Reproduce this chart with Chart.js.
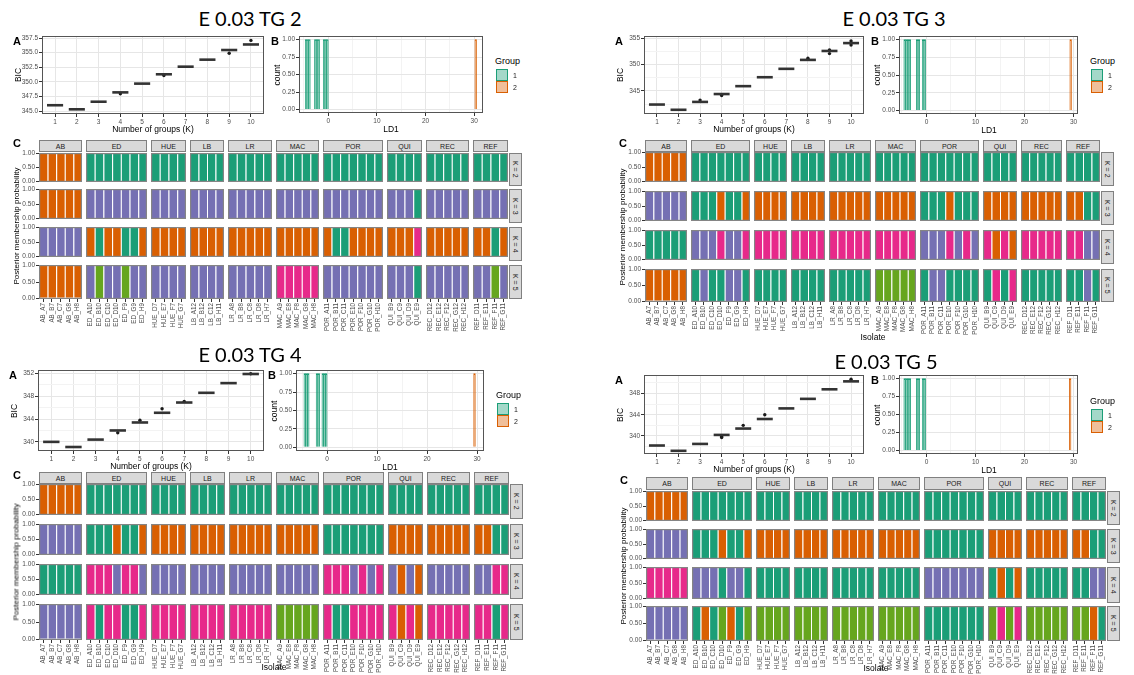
<!DOCTYPE html>
<html>
<head>
<meta charset="utf-8">
<script src="https://cdn.jsdelivr.net/npm/chart.js@4.4.1/dist/chart.umd.min.js"></script>
<style>
  body { margin: 0; width: 1134px; height: 675px; overflow: hidden; position: relative; background: #fff;
         font-family: "Liberation Sans", Arial, sans-serif; }
  .abs { position: absolute; white-space: nowrap; }
  .ctr { transform: translate(-50%, -50%); }
  .rot { transform: translate(-50%, -50%) rotate(-90deg); }
  .title { font-family: Lato, "Open Sans", sans-serif; font-size: 20px; color: #000; }
  .tag { font-weight: bold; font-size: 11px; color: #000; }
  .axt { font-size: 8.5px; color: #000; }
  .strip { background: #d9d9d9; border: 1px solid #808080; box-sizing: border-box; font-size: 7px; color: #1a1a1a;
           display: flex; align-items: center; justify-content: center; }
  .kstrip { writing-mode: vertical-rl; }
  .key { box-sizing: border-box; border: 1.5px solid; }
  canvas { position: absolute; }
</style>
</head>
<body>
<script>
// isolates per population
const populations = ['AB', 'ED', 'HUE', 'LB', 'LR', 'MAC', 'POR', 'QUI', 'REC', 'REF'];
const isolatesAB = ['AB_A7', 'AB_B7', 'AB_C7', 'AB_G8', 'AB_H8'];
const isolatesED = ['ED_A10', 'ED_B10', 'ED_C10', 'ED_D10', 'ED_F9', 'ED_G9', 'ED_H9'];
const isolatesHUE = ['HUE_D7', 'HUE_E7', 'HUE_F7', 'HUE_G7'];
const isolatesLB = ['LB_A12', 'LB_B12', 'LB_C12', 'LB_H11'];
const isolatesLR = ['LR_A8', 'LR_B8', 'LR_C8', 'LR_D8', 'LR_H7'];
const isolatesMAC = ['MAC_A9', 'MAC_E8', 'MAC_F8', 'MAC_G8', 'MAC_H8'];
const isolatesPOR = ['POR_A11', 'POR_B11', 'POR_C11', 'POR_E10', 'POR_F10', 'POR_G10', 'POR_H10'];
const isolatesQUI = ['QUI_B9', 'QUI_C9', 'QUI_D9', 'QUI_E9'];
const isolatesREC = ['REC_D12', 'REC_E12', 'REC_F12', 'REC_G12', 'REC_H12'];
const isolatesREF = ['REF_D11', 'REF_E11', 'REF_F11', 'REF_G11'];

const groupK = [1, 2, 3, 4, 5, 6, 7, 8, 9, 10];
const kRows = ['K = 2', 'K = 3', 'K = 4', 'K = 5'];

// BIC per number of groups, plus outlying runs
const bicTG2 = [346.0, 345.3, 346.6, 348.2, 349.7, 351.3, 352.6, 353.8, 355.45, 356.4];
const outKTG2 = [4, 6, 9, 10];
const outVTG2 = [347.95, 351.1, 354.9, 357.1];
const bicTG3 = [342.4, 341.4, 342.9, 344.4, 345.9, 347.6, 349.2, 350.9, 352.6, 354.1];
const outKTG3 = [3, 4, 8, 9, 9, 10, 10];
const outVTG3 = [343.25, 344.1, 351.2, 352.8, 352.1, 354.5, 353.75];
const bicTG4 = [340.0, 339.1, 340.4, 342.0, 343.4, 345.1, 346.9, 348.6, 350.3, 351.9];
const outKTG4 = [4, 5, 6, 7, 10];
const outVTG4 = [341.6, 343.8, 345.8, 347.1, 351.95];
const bicTG5 = [338.2, 337.2, 338.5, 340.2, 341.4, 343.2, 345.2, 347.0, 348.8, 350.3];
const outKTG5 = [4, 4, 5, 6, 10];
const outVTG5 = [339.9, 339.7, 342.0, 344.0, 350.7];

// LD1 positions of the discriminant histogram, by group
const ld1TG2g1 = [-4.55, -4.2, -3.85, -2.65, -2.3, -1.95, -0.85, -0.5, -0.15];
const ld1TG2g2 = [30.3];
const ld1TG3g1 = [-4.45, -4.1, -3.75, -3.4, -1.9, -1.55, -0.7, -0.35];
const ld1TG3g2 = [29.4];
const ld1TG4g1 = [-4.45, -4.1, -3.75, -2.0, -1.65, -0.85, -0.5, -0.15];
const ld1TG4g2 = [29.5];
const ld1TG5g1 = [-4.45, -4.1, -3.75, -3.4, -1.9, -1.55, -0.7, -0.35];
const ld1TG5g2 = [29.3];

// cluster membership per isolate (t, o, p, m, g), one block per population
const tg2K2 = 'ooooo ttttttt tttt tttt ttttt ttttt ttttttt tttt ttttt tttt';
const tg2K3 = 'ooooo ppppppp pppp pppp ppppp ppppp ppppppp pppt ppppp pppp';
const tg2K4 = 'ppppp otootto oooo oooo ooooo ooooo ottoooo ooom ooooo ooto';
const tg2K5 = 'ooooo pgppgpp pppp pppp ppppp mmmmm ppppppp pppt ppppp ppgp';

const tg3K2 = 'ooooo ttttttt tttt tttt ttttt ttttt ttttttt tttt ttttt tttt';
const tg3K3 = 'ppppp tttotto oooo oooo ooooo ooooo tttottt oooo ooooo oott';
const tg3K4 = 'ttttt pppmppm mmmm mmmm mmmmm mmmmm pppmpmp momo mmmmm mmpp';
const tg3K5 = 'ooooo tpttppt tttt tttt ttttt ggggg tpptttt tmtm ttttt ttpt';

const tg4K2 = 'ooooo ttttttt tttt tttt ttttt ttttt ttttttt tttt ttttt tttt';
const tg4K3 = 'ppppp tttotto oooo oooo ooooo ooooo ttttttt oooo ooooo oott';
const tg4K4 = 'ttttt mmmpmmp pppp pppp ppppp ppppp mmmpmpm popo ppppp ppmm';
const tg4K5 = 'ppppp mtmmttm mmmm mmmm mmmmm ggggg mttmmmm momo mmmmm mmtm';

const tg5K2 = 'ooooo ttttttt tttt tttt ttttt ttttt ttttttt tttt ttttt tttt';
const tg5K3 = 'ppppp tttotto oooo oooo ooooo ooooo ttttttt oooo ooooo oott';
const tg5K4 = 'mmmmm ppptppt tttt tttt ttttt ttttt ppppppp toto ttttt ttpp';
const tg5K5 = 'ppppp totgotg gggg gggg ggggg ggggg ttttttt gmgm ggggg ggot';

const clusterCodes = ['t', 'o', 'p', 'm', 'g'];
const clusterColors = { t: '#1B9E77', o: '#D95F02', p: '#7570B3', m: '#E7298A', g: '#66A61E' };

const facets = [isolatesAB, isolatesED, isolatesHUE, isolatesLB, isolatesLR,
                isolatesMAC, isolatesPOR, isolatesQUI, isolatesREC, isolatesREF]
  .map((ids, i) => ({ name: populations[i], ids: ids }));
const nIsolates = facets.reduce((s, f) => s + f.ids.length, 0);

const quads = [
  { title: 'E 0.03 TG 2', tx: 250, ty: 18,
    a: { l: 42, t: 36, r: 264, b: 114 }, aMin: 344.5, aMax: 357.85, aStep: 1.25, aMajor: 2.5, aDec: 1,
    b: { l: 299, t: 36, r: 483, b: 113 }, bMin: -6, bMax: 31.8, leg: [495, 61],
    c: { l: 39, r: 508, st: 140, sb: 151, rows: [[153, 186], [189, 223], [227, 261], [265, 299]], iso: null },
    bic: bicTG2, outK: outKTG2, outV: outVTG2, g1: ld1TG2g1, g2: ld1TG2g2, k: [tg2K2, tg2K3, tg2K4, tg2K5] },
  { title: 'E 0.03 TG 3', tx: 894, ty: 18,
    a: { l: 644, t: 36, r: 864, b: 114 }, aMin: 340.6, aMax: 355.45, aStep: 2.5, aMajor: 5, aDec: 0,
    b: { l: 899, t: 36, r: 1078, b: 114 }, bMin: -5.6, bMax: 30.9, leg: [1090, 61],
    c: { l: 645, r: 1100, st: 140, sb: 151, rows: [[152, 186], [191, 225], [230, 264], [269, 302]], iso: 337 },
    bic: bicTG3, outK: outKTG3, outV: outVTG3, g1: ld1TG3g1, g2: ld1TG3g2, k: [tg3K2, tg3K3, tg3K4, tg3K5] },
  { title: 'E 0.03 TG 4', tx: 250, ty: 354,
    a: { l: 38, t: 370, r: 264, b: 451 }, aMin: 338.4, aMax: 352.6, aStep: 2, aMajor: 4, aDec: 0,
    b: { l: 296, t: 370, r: 484, b: 451 }, bMin: -6.2, bMax: 31.4, leg: [496, 395],
    c: { l: 39, r: 509, st: 472, sb: 483, rows: [[484, 519], [524, 559], [564, 599], [604, 640]], iso: 667 },
    bic: bicTG4, outK: outKTG4, outV: outVTG4, g1: ld1TG4g1, g2: ld1TG4g2, k: [tg4K2, tg4K3, tg4K4, tg4K5] },
  { title: 'E 0.03 TG 5', tx: 886, ty: 361,
    a: { l: 644, t: 375, r: 864, b: 454 }, aMin: 336.6, aMax: 351.5, aStep: 2, aMajor: 4, aDec: 0,
    b: { l: 899, t: 375, r: 1078, b: 454 }, bMin: -5.6, bMax: 30.9, leg: [1090, 401],
    c: { l: 646, r: 1106, st: 477, sb: 489, rows: [[491, 525], [529, 563], [567, 603], [606, 641]], iso: 668 },
    bic: bicTG5, outK: outKTG5, outV: outVTG5, g1: ld1TG5g1, g2: ld1TG5g2, k: [tg5K2, tg5K3, tg5K4, tg5K5] }
];

Chart.defaults.font.family = '"Liberation Sans", Arial, sans-serif';
Chart.defaults.animation = false;
Chart.defaults.events = [];
Chart.defaults.plugins.legend.display = false;
Chart.defaults.plugins.tooltip.enabled = false;

// outline around the plotting area
Chart.register({
  id: 'frame',
  afterDraw(chart, args, opts) {
    if (!opts.color) return;
    const a = chart.chartArea, c = chart.ctx, w = opts.width || 1;
    c.save();
    c.strokeStyle = opts.color;
    c.lineWidth = w;
    c.strokeRect(a.left + w / 2, a.top + w / 2, a.right - a.left - w, a.bottom - a.top - w);
    c.restore();
  }
});

const isMul = (v, s) => Math.abs(v / s - Math.round(v / s)) < 1e-6;
const TICK = '#4d4d4d';
const GRID_MAJOR = '#e6e6e6';
const GRID_MINOR = '#f3f3f3';

// fixed axis box sizes so every plotting area lands where it should
const fixW = w => s => { s.width = w; s.paddingTop = 0; s.paddingBottom = 0; s.paddingLeft = 0; s.paddingRight = 0; };
const fixH = h => s => { s.height = h; s.paddingTop = 0; s.paddingBottom = 0; s.paddingLeft = 0; s.paddingRight = 0; };

function put(text, x, y, cls, extra) {
  const d = document.createElement('div');
  d.className = 'abs ' + (cls || '');
  d.style.left = Math.round(x) + 'px';
  d.style.top = Math.round(y) + 'px';
  if (extra) Object.assign(d.style, extra);
  d.textContent = text;
  document.body.appendChild(d);
  return d;
}

function canvasAt(x, y, w, h) {
  const c = document.createElement('canvas');
  c.width = w; c.height = h;
  c.style.left = x + 'px'; c.style.top = y + 'px';
  c.style.width = w + 'px'; c.style.height = h + 'px';
  document.body.appendChild(c);
  return c;
}

function stepTicks(min, max, step) {
  const out = [];
  for (let v = Math.ceil(min / step - 1e-9) * step; v <= max + 1e-9; v += step) out.push({ value: +v.toFixed(6) });
  return out;
}

function drawBic(q) {
  const p = q.a, padL = 26, padB = 14, padT = 4, padR = 2;
  const cv = canvasAt(p.l - padL, p.t - padT, p.r - p.l + padL + padR, p.b - p.t + padT + padB);
  const boxR = (p.r - p.l) / 10.2 * 0.37;
  new Chart(cv, {
    type: 'scatter',
    data: {
      datasets: [
        { data: q.bic.map((v, i) => ({ x: groupK[i], y: v })), pointStyle: 'line', pointRadius: boxR,
          pointBorderWidth: 2.6, pointBorderColor: '#333333', pointBackgroundColor: '#333333' },
        { data: q.outK.map((k, i) => ({ x: k, y: q.outV[i] })), pointStyle: 'circle', pointRadius: 1.7,
          pointBorderWidth: 0, pointBackgroundColor: '#1a1a1a', pointBorderColor: '#1a1a1a' }
      ]
    },
    options: {
      responsive: false,
      layout: { autoPadding: false, padding: { top: padT, right: padR, left: 0, bottom: 0 } },
      plugins: { frame: { color: '#555555' } },
      scales: {
        x: {
          type: 'linear', min: 0.4, max: 10.6,
          afterFit: fixH(padB),
          afterBuildTicks: s => { s.ticks = groupK.map(k => ({ value: k })); },
          ticks: { font: { size: 6.5 }, color: TICK, padding: 1, maxRotation: 0, callback: v => String(v) },
          grid: { color: GRID_MAJOR, tickLength: 3, tickColor: '#333' },
          border: { display: false }
        },
        y: {
          min: q.aMin, max: q.aMax,
          afterFit: fixW(padL),
          afterBuildTicks: s => { s.ticks = stepTicks(q.aMin, q.aMax, q.aStep); },
          ticks: { font: { size: 6.5 }, color: TICK, padding: 1,
                   callback: v => isMul(v, q.aMajor) ? v.toFixed(q.aDec) : '' },
          grid: { color: c => isMul(c.tick.value, q.aMajor) ? GRID_MAJOR : GRID_MINOR, tickLength: 3,
                  tickColor: c => isMul(c.tick.value, q.aMajor) ? '#333' : 'rgba(0,0,0,0)' },
          border: { display: false }
        }
      }
    }
  });
  put('A', p.l - 25.5, p.t + 4.5, 'tag ctr');
  put('BIC', p.l - 24, (p.t + p.b) / 2, 'axt rot');
  put('Number of groups (K)', (p.l + p.r) / 2, p.b + 15, 'axt ctr');
}

function drawLd1(q) {
  const p = q.b, padL = 24, padB = 14, padT = 4, padR = 2;
  const cv = canvasAt(p.l - padL, p.t - padT, p.r - p.l + padL + padR, p.b - p.t + padT + padB);
  const bar = (vals, col, fill) => ({
    data: vals.map(v => ({ x: v, y: 1 })), backgroundColor: fill, borderColor: col, borderWidth: 1,
    grouped: false, barPercentage: 1, categoryPercentage: 1
  });
  new Chart(cv, {
    type: 'bar',
    data: { datasets: [
      bar(q.g1, '#1B9E77', 'rgba(27,158,119,0.45)'),
      bar(q.g2, '#D95F02', 'rgba(217,95,2,0.45)')
    ] },
    options: {
      responsive: false,
      layout: { autoPadding: false, padding: { top: padT, right: padR, left: 0, bottom: 0 } },
      plugins: { frame: { color: '#555555' } },
      scales: {
        x: {
          type: 'linear', min: q.bMin, max: q.bMax, offset: false,
          afterFit: fixH(padB),
          afterBuildTicks: s => { s.ticks = stepTicks(q.bMin, q.bMax, 5); },
          ticks: { font: { size: 6.5 }, color: TICK, padding: 1, maxRotation: 0,
                   callback: v => isMul(v, 10) ? String(v) : '' },
          grid: { offset: false, color: c => isMul(c.tick.value, 10) ? GRID_MAJOR : GRID_MINOR, tickLength: 3,
                  tickColor: c => isMul(c.tick.value, 10) ? '#333' : 'rgba(0,0,0,0)' },
          border: { display: false }
        },
        y: {
          min: -0.05, max: 1.05,
          afterFit: fixW(padL),
          afterBuildTicks: s => { s.ticks = stepTicks(0, 1, 0.125); },
          ticks: { font: { size: 6.5 }, color: TICK, padding: 1,
                   callback: v => isMul(v, 0.25) ? v.toFixed(2) : '' },
          grid: { color: c => isMul(c.tick.value, 0.25) ? GRID_MAJOR : GRID_MINOR, tickLength: 3,
                  tickColor: c => isMul(c.tick.value, 0.25) ? '#333' : 'rgba(0,0,0,0)' },
          border: { display: false }
        }
      }
    }
  });
  put('B', p.l - 24, p.t + 4.5, 'tag ctr');
  put('count', p.l - 22, (p.t + p.b) / 2, 'axt rot');
  put('LD1', (p.l + p.r) / 2, p.b + 16, 'axt ctr');

  // group key
  const [lx, ly] = q.leg;
  put('Group', lx, ly, 'axt', { fontSize: '9px', transform: 'translateY(-50%)' });
  [['1', '#1B9E77', 'rgba(27,158,119,0.4)'], ['2', '#D95F02', 'rgba(217,95,2,0.4)']].forEach((g, i) => {
    const y = ly + 8 + i * 12;
    put('', lx + 0.5, y, 'key', { width: '12px', height: '12px', borderColor: g[1], background: g[2] });
    put(g[0], lx + 18, y + 6, '', { fontSize: '7px', color: '#1a1a1a', transform: 'translateY(-50%)' });
  });
}

function drawMembership(q) {
  const c = q.c, gap = 4;
  const unit = (c.r - c.l - gap * (facets.length - 1)) / nIsolates;
  const rowsCodes = q.k.map(s => s.split(' '));
  let cum = 0;
  facets.forEach((f, fi) => {
    const x0 = Math.round(c.l + cum * unit + fi * gap);
    const x1 = Math.round(c.l + (cum + f.ids.length) * unit + fi * gap);
    put(f.name, x0, c.st, 'strip', { width: (x1 - x0) + 'px', height: (c.sb - c.st + 1) + 'px' });
    c.rows.forEach((row, ri) => {
      const codes = rowsCodes[ri][fi].split('');
      const first = fi === 0, bottom = ri === c.rows.length - 1;
      const padL = first ? 26 : 0, padB = bottom ? 36 : 4, padT = 4;
      const cv = canvasAt(x0 - padL, row[0] - padT, x1 - x0 + padL, row[1] - row[0] + padT + padB);
      new Chart(cv, {
        type: 'bar',
        data: {
          labels: f.ids,
          datasets: clusterCodes.map(k => ({
            data: codes.map(code => code === k ? 1 : null),
            backgroundColor: clusterColors[k],
            borderColor: 'rgba(255,255,255,0.3)',
            borderWidth: { left: 1, right: 0, top: 0, bottom: 0 },
            borderSkipped: false,
            inflateAmount: 0,
            barPercentage: 1, categoryPercentage: 1
          }))
        },
        options: {
          responsive: false,
          layout: { autoPadding: false, padding: { top: padT, bottom: bottom ? 0 : 4, left: 0, right: 0 } },
          plugins: { frame: { color: '#858585', width: 1.2 } },
          scales: {
            x: {
              stacked: true, display: bottom, offset: true,
              afterFit: fixH(padB),
              ticks: { font: { size: 6.3 }, color: TICK, padding: 1, autoSkip: false, minRotation: 90, maxRotation: 90 },
              grid: { offset: false, drawOnChartArea: false, tickLength: 3, tickColor: '#333' },
              border: { display: false }
            },
            y: {
              stacked: true, display: first, min: -0.02, max: 1.02,
              afterFit: fixW(padL),
              afterBuildTicks: s => { s.ticks = stepTicks(0, 1, 0.25); },
              ticks: { font: { size: 6.5 }, color: TICK, padding: 1, callback: v => v.toFixed(2) },
              grid: { drawOnChartArea: false, tickLength: 3, tickColor: '#333' },
              border: { display: false }
            }
          }
        }
      });
      if (fi === facets.length - 1) {
        put(kRows[ri], x1 + 1, row[0], 'strip kstrip', { width: '13px', height: (row[1] - row[0]) + 'px' });
      }
    });
    cum += f.ids.length;
  });
  const rows = c.rows;
  put('C', c.l - 22, c.st + 2.5, 'tag ctr');
  put('Posterior membership probability', c.l - 23, (rows[0][0] + rows[rows.length - 1][1]) / 2, 'axt rot', { fontSize: '8px' });
  if (c.iso) put('Isolate', (c.l + c.r) / 2, c.iso, 'axt ctr');
}

quads.forEach(q => {
  put(q.title, q.tx, q.ty, 'title ctr');
  drawBic(q);
  drawLd1(q);
  drawMembership(q);
});
</script>
</body>
</html>
